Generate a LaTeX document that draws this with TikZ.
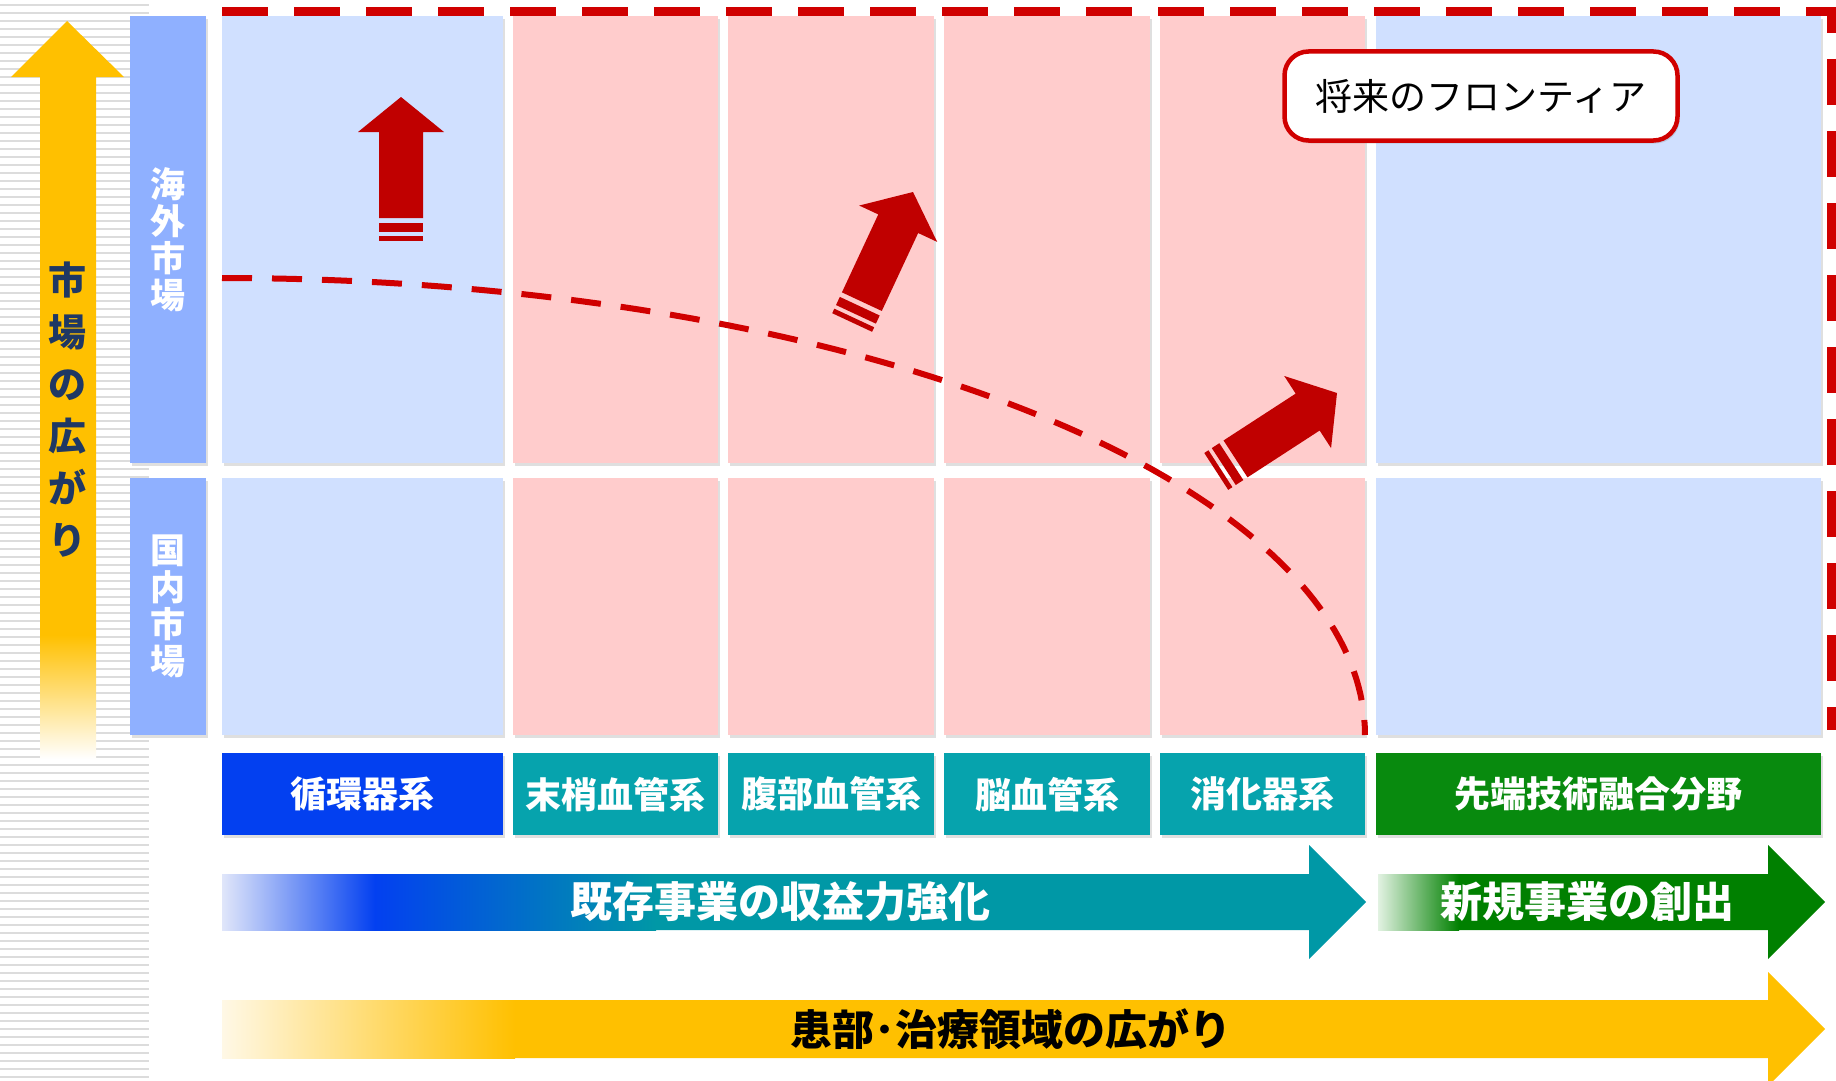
\documentclass[tikz,border=0pt]{standalone}
\usepackage{fontspec}
\setmainfont{Noto Sans CJK JP}
\usetikzlibrary{shadows}

\definecolor{tileblue}{HTML}{D0E0FF}
\definecolor{tilepink}{HTML}{FFCCCC}
\definecolor{barblue}{HTML}{8FB0FF}
\definecolor{catblue}{HTML}{0340F0}
\definecolor{catteal}{HTML}{06A3AD}
\definecolor{catgreen}{HTML}{088A0E}
\definecolor{arrteal}{HTML}{0098A6}
\definecolor{arrgreen}{HTML}{008000}
\definecolor{palegreen}{HTML}{E2F2E2}
\definecolor{paleblue}{HTML}{E0E6FA}
\definecolor{cream}{HTML}{FFF8E6}
\definecolor{gold}{HTML}{FFC000}
\definecolor{frontred}{HTML}{C00000}
\definecolor{linered}{HTML}{D00000}
\definecolor{navy}{HTML}{1F3864}
\definecolor{stripe}{HTML}{DCDCDC}

\tikzset{
	tile/.style={rectangle, inner sep=0pt, anchor=north west,
		drop shadow={shadow xshift=2pt, shadow yshift=-3pt, opacity=.25}},
	catbox/.style={tile, text=white, minimum height=82pt,
		font=\fontsize{36}{40}\selectfont\bfseries},
	sidebar/.style={tile, fill=barblue, minimum width=76pt, text=white, align=center,
		font=\fontsize{35}{37}\selectfont\bfseries},
	flowtext/.style={inner sep=0pt, font=\fontsize{42}{46}\selectfont\bfseries},
	growth/.pic={
		\fill[frontred] (0,0) -- (43,35) -- (22,35) -- (22,121) -- (-22,121) -- (-22,35) -- (-43,35) -- cycle;
		\fill[frontred] (-22,126) rectangle (22,135);
		\fill[frontred] (-22,139) rectangle (22,144);
	}
}

\begin{document}
\begin{tikzpicture}[x=1pt, y=-1pt]
	\useasboundingbox (0,0) rectangle (1836,1081);

	% striped band on the left
	\foreach \y in {5,13,...,1081}
		\draw[stripe, line width=2.5pt] (0,\y) -- (149,\y);

	% market axis
	\fill[gold] (40,635) -- (40,77) -- (11,77) -- (67,21) -- (124,77) -- (96,77) -- (96,635) -- cycle;
	\shade[top color=gold, bottom color=white] (40,635) rectangle (96,759);
	\node[text=navy, align=center, inner sep=0pt, font=\fontsize{38}{52}\selectfont\bfseries] (axis) at (67,410) {市\\場\\の\\広\\が\\り};

	\node[sidebar, minimum height=447pt] (overseas) at (130,16) {海\\外\\市\\場};
	\node[sidebar, minimum height=257pt] (domestic) at (130,478) {国\\内\\市\\場};

	% grid of fields
	\foreach \x/\w/\c [count=\i] in {222/281/tileblue, 513/205/tilepink, 728/206/tilepink, 944/206/tilepink, 1160/205/tilepink, 1376/445/tileblue}{
		\node[tile, fill=\c, minimum width=\w pt, minimum height=447pt] (os\i) at (\x,16) {};
		\node[tile, fill=\c, minimum width=\w pt, minimum height=257pt] (dm\i) at (\x,478) {};
	}
	\foreach \x/\w/\c/\t [count=\i] in {222/281/catblue/循環器系, 513/205/catteal/末梢血管系, 728/206/catteal/腹部血管系, 944/206/catteal/脳血管系, 1160/205/catteal/消化器系, 1376/445/catgreen/先端技術融合分野}
		\node[catbox, fill=\c, minimum width=\w pt] (cat\i) at (\x,753) {\t};

	% frontier
	\draw[linered, line width=9pt, dash pattern=on 46pt off 26pt] (222,12) -- (1831,12) -- (1831,730);
	\draw[linered, line width=6pt, dash pattern=on 30pt off 20pt] plot[domain=90:0, samples=90] ({222+1143*cos(\x)}, {735-457*sin(\x)});

	\pic at (401,97) {growth};
	\pic[rotate=-25] at (913,192) {growth};
	\pic[rotate=-57] at (1337,393) {growth};

	\node[draw=linered, line width=4.5pt, rounded corners=24pt, fill=white, minimum width=393pt, minimum height=89pt,
		drop shadow={shadow xshift=2pt, shadow yshift=-3pt, opacity=.25},
		font=\fontsize{37}{40}\selectfont] (frontier) at (1481,96) {将来のフロンティア};

	% business arrows
	\fill[arrteal] (222,874) -- (1309,874) -- (1309,845) -- (1366,902) -- (1309,959) -- (1309,930) -- (222,930) -- cycle;
	\shade[left color=paleblue, right color=catblue] (222,874) rectangle (375,930);
	\shade[left color=catblue, right color=arrteal] (375,874) rectangle (656,930);
	\node[flowtext, text=white] (existing) at (780,902) {既存事業の収益力強化};

	\fill[arrgreen] (1378,874) -- (1768,874) -- (1768,845) -- (1825,902) -- (1768,959) -- (1768,930) -- (1378,930) -- cycle;
	\shade[left color=palegreen, right color=arrgreen] (1378,874) rectangle (1459,930);
	\node[flowtext, text=white] (newbiz) at (1587,902) {新規事業の創出};

	\fill[gold] (222,1000) -- (1768,1000) -- (1768,972) -- (1825,1029) -- (1768,1086) -- (1768,1058) -- (222,1058) -- cycle;
	\shade[left color=cream, right color=gold] (222,1000) rectangle (515,1058);
	\node[flowtext] (scope) at (1011,1029) {患部･治療領域の広がり};
\end{tikzpicture}
\end{document}
